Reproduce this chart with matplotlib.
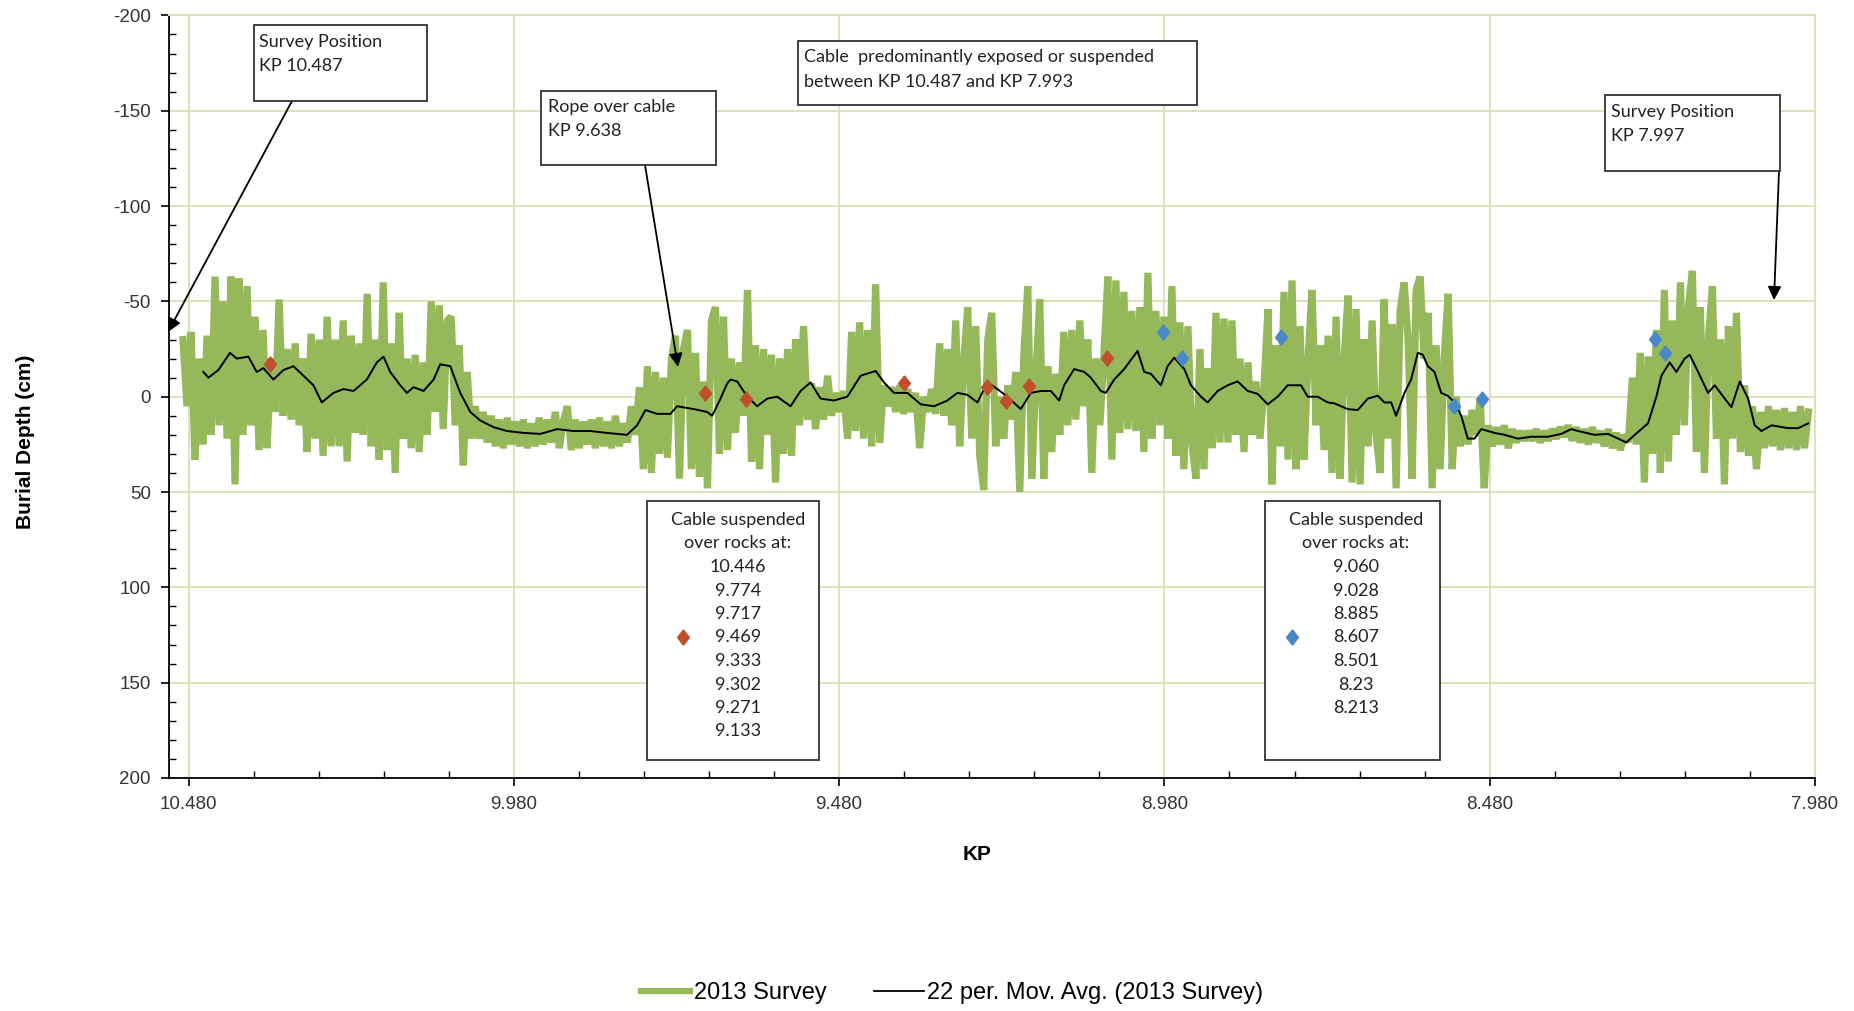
import numpy as np
import matplotlib
matplotlib.use("Agg")
import matplotlib.pyplot as plt
from matplotlib.patches import Rectangle
from matplotlib.lines import Line2D

plt.rcParams['axes.unicode_minus'] = False
plt.rcParams['font.family'] = ['Liberation Sans', 'DejaVu Sans']

# 2013 survey burial depth (cm), evenly spaced along KP
kp_start = 10.4885
kp_end = 7.9900
depth_2013 = [
    -30, 5, -34, 33, -20, 25, -32, 20, -63, 15,
    -50, 22, -63, 46, -62, 20, -58, 15, -42, 28,
    -35, 27, -20, 8, -51, 10, -25, 12, -28, 15,
    -20, 29, -33, 22, -30, 31, -42, 26, -30, 26,
    -40, 34, -32, 19, -28, 20, -54, 26, -30, 33,
    -60, 28, -28, 40, -44, 22, -20, 27, -22, 29,
    -18, 20, -50, 8, -48, 17, -40,
    -42, 15, -27, 36, -13, 22, 5, 22, 8, 24,
    10, 26, 12, 27, 11, 25, 13, 26, 12, 27,
    14, 26, 11, 25, 12, 24, 8, 27, 13, 5,
    28, 12, 27, 13, 25, 12, 27, 11, 26, 13,
    27, 10, 26, 14, 24, 5, 20, -5, 38, -16,
    40, -13, 30, -10, 32, -20, -32, 43, -25, -35,
    38, -23, 42, -8, 48, -40, -47, 30, -42, 28,
    -20, 19, -18, 10, -56, 34, -27, 38, -25, 20,
    -22, 45, -20, 30, -25, 31, -30, 15, -37, 12,
    -7, 17, -5, 12, -11, 10, -2, 8, -3, 22,
    -34, 18, -39, 22, -35, 26, -59, 24, -6, 5,
    -5, 8, -6, 9, -4, 8, -2, 27, 0, 8,
    -4, 9, -28, 10, -25, 15, -40, 26, -18, -47,
    22, -37, 31, 49, -30, -44, 26, 0, 22, -6,
    12, -13, 50, -21, -58, 43, -10, -51, 43, -16,
    29, -12, 20, -34, 15, -35, 12, -40, 5, -30,
    40, -20, 15, -21, -63, 33, -61, 19, -55, 17,
    -45, 18, -47, 29, -65, 22, -45, 15, -42, 22,
    -58, 31, -39, 38, -37, 25, 43, -25, 38, -15,
    27, -44, 24, -41, 24, -40, 20, -20, 29, -18,
    20, -8, 22, -5, -46, 46, -27, 26, -55, 33,
    -61, 38, -37, 33, -20, -56, 15, -27, 28, -32,
    40, -42, 43, -20, -53, 45, -46, 46, -30, 26,
    -40, 20, 40, -51, 22, -38, 48, -45, -60, -30,
    43, -56, -63, -20, -44, 48, -27, 38, -20, -54,
    38, 0, 26, 10, 25, 7, 20, 1, 48, 15,
    26, 16, 25, 15, 27, 17, 24, 18, 23, 18,
    23, 17, 24, 18, 23, 17, 22, 16, 21, 15,
    23, 16, 24, 17, 25, 16, 24, 18, 26, 17,
    27, 19, 28, 20, 24, -10, 25, -23, 45, -21,
    30, -35, 40, -56, 34, -40, 20, -60, 15, -47,
    -66, 29, -47, 40, -30, -58, 22, -30, 46, -37,
    22, -44, 29, -6, 31, 5, 38, 8, 27, 5,
    26, 7, 28, 6, 27, 8, 28, 5, 27, 8,
]

# 22 per. moving average
ma_kp = [
    10.4572, 10.4495, 10.4341, 10.4162, 10.4059, 10.3880, 10.3751, 10.3649, 10.3495, 10.3341,
    10.3187, 10.3033, 10.2880, 10.2751, 10.2572, 10.2418, 10.2264, 10.2059, 10.1905, 10.1803,
    10.1700, 10.1546, 10.1444, 10.1341, 10.1187, 10.1033, 10.0931, 10.0777,
    10.0623, 10.0469, 10.0315, 10.0110, 9.9905, 9.9649, 9.9392, 9.9136, 9.8879, 9.8623,
    9.8367, 9.8059, 9.7905, 9.7777, 9.7597, 9.7392, 9.7290, 9.7033, 9.6828, 9.6751,
    9.6623, 9.6520,
    9.6469, 9.6366, 9.6212, 9.6059, 9.5905, 9.5751, 9.5546, 9.5392, 9.5238, 9.5085,
    9.4880, 9.4674, 9.4469, 9.4238, 9.4110, 9.3957, 9.3751, 9.3546, 9.3341, 9.3136,
    9.2982, 9.2828, 9.2674, 9.2520, 9.2366, 9.2213,
    9.2008, 9.1854, 9.1700, 9.1546, 9.1418, 9.1341, 9.1187, 9.1033, 9.0931, 9.0777,
    9.0700, 9.0572, 9.0418, 9.0213, 9.0110, 9.0008, 8.9854, 8.9751, 8.9649, 8.9495,
    8.9392, 8.9238, 8.9136, 8.8982, 8.8828, 8.8674, 8.8520, 8.8367, 8.8213, 8.8059,
    8.7905,
    8.7854, 8.7700, 8.7597, 8.7444, 8.7290, 8.7187, 8.6982, 8.6828, 8.6674, 8.6520,
    8.6418, 8.6315, 8.6238, 8.6110, 8.6008, 8.5905, 8.5828, 8.5751, 8.5649, 8.5546,
    8.5444, 8.5341, 8.5238, 8.5136, 8.5033, 8.4931, 8.4726, 8.4572, 8.4367, 8.4161,
    8.3905, 8.3700, 8.3546,
    8.3443, 8.3187, 8.2982, 8.2700, 8.2520, 8.2367, 8.2238, 8.2161, 8.2033, 8.1931,
    8.1803, 8.1726, 8.1597, 8.1444, 8.1341, 8.1187, 8.1085, 8.0956, 8.0828, 8.0726,
    8.0623, 8.0469, 8.0213, 8.0059, 7.9905,
]
ma_depth = [
    -13, -10, -14, -23, -20, -21, -13, -15, -9, -14,
    -16, -11, -6, 3, -2, -4, -3, -9, -18, -21,
    -13, -6, -2, -5, -3, -9, -17, -16,
    -2, 8, 12.5, 16, 18, 19, 19.5, 17, 18, 18,
    19, 20, 15, 7, 9, 9, 5, 6.5, 8, 10,
    1, -7,
    -9, -8, 0, 5, 1, 0, 5, -3, -7.5, 1,
    2, 0, -11, -13.5, -7.5, -2, -2, 4, 5, 2,
    -2, -1, 3, -7.5, -4, 0,
    6.5, -2, -3, -3, 2, -6, -14.5, -13, -10, -3,
    -2, -9, -14.5, -24, -13, -12, -6, -16, -20.5, -14.5,
    -6, 0, 3, -3, -6, -8, -3, -1.5, 4, 0,
    -6,
    -6, -6, 0, 0, 3, 3.5, 6.5, 7, 1, -0.5,
    3, 3, 10, -2, -9, -23, -22, -16, -13, -2,
    -0.5, 3, 10, 22, 22, 17, 19, 20, 22, 21,
    21, 19.5, 17,
    18, 20, 19.5, 24, 18.5, 14, 0, -11, -18, -13,
    -20, -22, -13, -2, -6, 1, 5.5, -8, 1, 15,
    18, 15, 16.5, 16.5, 14,
]

# rock suspension points
rocks_red_kp = [10.3546, 9.6869, 9.6238, 9.3803, 9.2520, 9.2238, 9.1880, 9.0685]
rocks_red_depth = [-17, -2, 1, -7, -5, 2, -5.4, -20.5]
rocks_blue_kp = [8.9828, 8.9531, 8.8008, 8.5351, 8.4915, 8.2265, 8.2111]
rocks_blue_depth = [-34, -20.5, -31.5, 4.7, 1, -30.5, -23]

rocks_red_labels = ["10.446", "9.774", "9.717", "9.469", "9.333", "9.302", "9.271", "9.133"]
rocks_blue_labels = ["9.060", "9.028", "8.885", "8.607", "8.501", "8.23", "8.213"]

x_ticks = [10.48, 9.98, 9.48, 8.98, 8.48, 7.98]
y_ticks = [-200, -150, -100, -50, 0, 50, 100, 150, 200]

GREEN = '#95b85a'
RED = '#c0502b'
BLUE = '#4a89c8'
GRID = '#d9e3b8'
DIAMOND = [(0, 1), (0.78, 0), (0, -1), (-0.78, 0), (0, 1)]

W, H = 1854, 1011
fig = plt.figure(figsize=(W / 100, H / 100), dpi=100)


def fp(x, y):
    # pixel position (from top left) -> figure fraction
    return (x / W, 1 - y / H)


ax = fig.add_axes([169 / W, 1 - 778 / H, (1815 - 169) / W, (778 - 15.4) / H])

kp = np.linspace(kp_start, kp_end, len(depth_2013))
ax.plot(kp, depth_2013, color=GREEN, lw=5.2, solid_joinstyle='bevel', zorder=2)
ax.plot(ma_kp, ma_depth, color='black', lw=1.4, zorder=3)
ax.plot(rocks_red_kp, rocks_red_depth, ls='none', marker=DIAMOND, ms=11,
        color=RED, zorder=4)
ax.plot(rocks_blue_kp, rocks_blue_depth, ls='none', marker=DIAMOND, ms=11,
        color=BLUE, zorder=4)

ax.set_xlim(10.510, 7.980)
ax.set_ylim(200, -200)
ax.set_xticks(x_ticks)
ax.set_xticklabels([f"{v:.3f}" for v in x_ticks])
ax.set_xticks([10.48 - 0.1 * k for k in range(26)], minor=True)
ax.set_yticks(y_ticks)
ax.set_yticks(np.arange(-200, 201, 10), minor=True)
ax.tick_params(which='major', direction='out', length=6, width=1.2,
               labelsize=13.5, labelcolor='#333333', pad=7)
ax.tick_params(which='minor', direction='in', length=5, width=1.0)
ax.grid(True, which='major', color=GRID, lw=1.4)
ax.set_axisbelow(True)
for s in ['top', 'right']:
    ax.spines[s].set_color(GRID)
    ax.spines[s].set_linewidth(1.4)
for s in ['left', 'bottom']:
    ax.spines[s].set_color('black')
    ax.spines[s].set_linewidth(1.3)

fig.text(*fp(26, 442), "Burial Depth (cm)", rotation=90, ha='center', va='center',
         fontsize=15, fontweight='bold')
fig.text(*fp(977, 854), "KP", ha='center', va='center', fontsize=15, fontweight='bold')

# annotation boxes
box_font = dict(family=['Lato', 'DejaVu Sans'], fontsize=13, color='#222222')


def box(x0, y0, x1, y1):
    r = Rectangle(fp(x0, y1), (x1 - x0) / W, (y1 - y0) / H, transform=fig.transFigure,
                  facecolor='white', edgecolor='#333333', lw=1.3, zorder=5)
    fig.add_artist(r)


def arrow(x0, y0, x1, y1):
    ax.annotate('', xy=fp(x1, y1), xytext=fp(x0, y0), xycoords='figure fraction',
                textcoords='figure fraction',
                arrowprops=dict(arrowstyle='-|>', color='black', lw=1.3,
                                mutation_scale=20, shrinkA=0, shrinkB=0),
                zorder=6, annotation_clip=False)


box(254, 25, 427, 101)
fig.text(*fp(259, 42), "Survey Position", ha='left', va='center', zorder=6, **box_font)
fig.text(*fp(259, 66), "KP 10.487", ha='left', va='center', zorder=6, **box_font)
arrow(292, 101, 168, 332)

box(541, 91, 716, 165)
fig.text(*fp(548, 107), "Rope over cable", ha='left', va='center', zorder=6, **box_font)
fig.text(*fp(548, 131), "KP 9.638", ha='left', va='center', zorder=6, **box_font)
arrow(645, 165, 678, 367)

box(798, 41, 1197, 105)
fig.text(*fp(804, 57), "Cable  predominantly exposed or suspended", ha='left',
         va='center', zorder=6, **box_font)
fig.text(*fp(804, 82), "between KP 10.487 and KP 7.993", ha='left', va='center',
         zorder=6, **box_font)

box(1605, 95, 1780, 171)
fig.text(*fp(1611, 112), "Survey Position", ha='left', va='center', zorder=6, **box_font)
fig.text(*fp(1611, 136), "KP 7.997", ha='left', va='center', zorder=6, **box_font)
arrow(1779, 171, 1774, 300)

# lower boxes listing the rock positions
for (x0, x1, cx, mx, labels, col) in [
        (647, 819, 738, 683, rocks_red_labels, RED),
        (1265, 1440, 1356, 1292, rocks_blue_labels, BLUE)]:
    box(x0, 501, x1, 760)
    lines = ["Cable suspended", "over rocks at:"] + labels
    for k, t in enumerate(lines):
        fig.text(*fp(cx, 520 + 23.5 * k), t, ha='center', va='center', zorder=6,
                 **box_font)
    fig.add_artist(Line2D([mx / W], [1 - 637 / H], transform=fig.transFigure,
                          marker=DIAMOND, ms=11, color=col, ls='none', zorder=6))

handles = [Line2D([], [], color=GREEN, lw=4.5),
           Line2D([], [], color='black', lw=1.3)]
fig.legend(handles, ["2013 Survey", "22 per. Mov. Avg. (2013 Survey)"],
           loc='center', bbox_to_anchor=fp(952, 993), ncol=2, frameon=False,
           fontsize=17, handlelength=2.1, handletextpad=0.15, columnspacing=2.0)

fig.savefig("out.png", dpi=100)
